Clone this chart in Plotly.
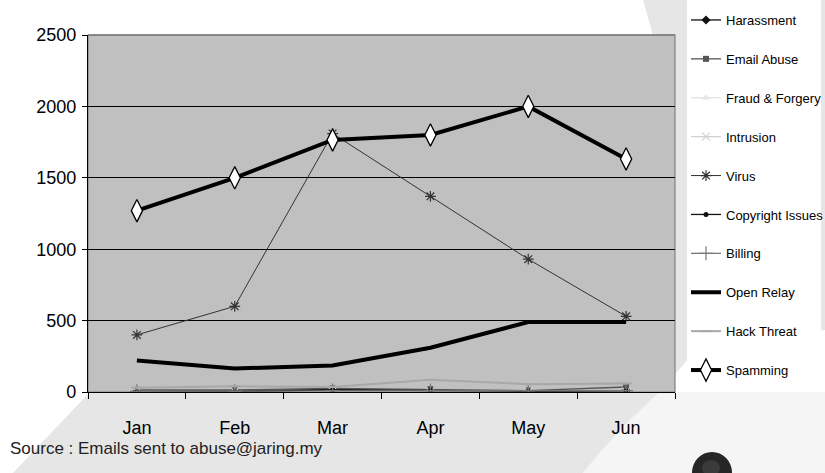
import plotly.graph_objects as go

# Monthly abuse reports by category
months = ["Jan", "Feb", "Mar", "Apr", "May", "Jun"]

harassment = [5, 8, 15, 10, 5, 10]
email_abuse = [15, 15, 25, 20, 10, 35]
fraud_forgery = [3, 5, 5, 8, 5, 5]
intrusion = [2, 3, 5, 3, 2, 3]
virus = [400, 600, 1810, 1370, 930, 530]
copyright_issues = [2, 3, 15, 12, 5, 8]
billing = [5, 5, 10, 10, 8, 10]
open_relay = [220, 165, 185, 310, 490, 490]
hack_threat = [30, 40, 35, 85, 55, 60]
spamming = [1270, 1500, 1765, 1800, 2000, 1632]

y_ticks = [0, 500, 1000, 1500, 2000, 2500]

W, H = 825, 473
L, R, T, B = 88, 675, 35, 392  # plot-area pixel box


def px(x):
    return (x - L) / (R - L)


def py(y):
    return (B - y) / (B - T)


def path(points):
    return "M " + " L ".join(f"{px(x):.4f},{py(y):.4f}" for x, y in points) + " Z"


SANS = "Liberation Sans, Arial, sans-serif"

series = [
    ("Harassment", harassment, dict(color="#111111", width=1.3), dict(symbol="diamond", size=7, color="#111111")),
    ("Email Abuse", email_abuse, dict(color="#555555", width=1.3), dict(symbol="square", size=6, color="#555555")),
    ("Fraud & Forgery", fraud_forgery, dict(color="#e4e4e4", width=1.3), dict(symbol="triangle-up", size=7, color="#e4e4e4")),
    ("Intrusion", intrusion, dict(color="#d2d2d2", width=1.3), dict(symbol="x-thin-open", size=8, color="#d2d2d2", line=dict(width=1.2, color="#d2d2d2"))),
    ("Virus", virus, dict(color="#333333", width=1), dict(symbol="asterisk-open", size=9, color="#333333", line=dict(width=1.2, color="#333333"))),
    ("Copyright Issues", copyright_issues, dict(color="#111111", width=1.3), dict(symbol="circle", size=5, color="#111111")),
    ("Billing", billing, dict(color="#777777", width=1.3), dict(symbol="cross-thin-open", size=10, color="#777777", line=dict(width=1.2, color="#777777"))),
    ("Open Relay", open_relay, dict(color="#000000", width=4), None),
    ("Hack Threat", hack_threat, dict(color="#a8a8a8", width=2), dict(symbol="line-ew-open", size=8, color="#a8a8a8", line=dict(width=2, color="#a8a8a8"))),
    ("Spamming", spamming, dict(color="#000000", width=4), dict(symbol="diamond-tall", size=16, color="#ffffff", line=dict(width=1.3, color="#000000"))),
]

fig = go.Figure()
for i, (name, vals, line, marker) in enumerate(series):
    fig.add_trace(go.Scatter(
        x=months, y=vals, name=name,
        mode="lines+markers" if marker else "lines",
        line=line, marker=marker,
        legendgroup=f"g{i}",
        hoverinfo="skip",
    ))

shapes = [
    # light grey sweep behind the chart
    dict(type="path", xref="paper", yref="paper", layer="below",
         path=path([(13, 473), (90, 392), (660, 60), (643, 0), (825, 0), (825, 330), (700, 345),
                    (660, 392), (630, 420), (605, 447), (583, 473)]),
         fillcolor="#e6e6e6", line=dict(width=0)),
    # paler region at lower right
    dict(type="path", xref="paper", yref="paper", layer="below",
         path=path([(583, 473), (605, 447), (630, 420), (660, 392), (825, 392), (825, 473)]),
         fillcolor="#f5f5f5", line=dict(width=0)),
    # plot area
    dict(type="rect", xref="paper", yref="paper", layer="below",
         x0=0, x1=1, y0=0, y1=1, fillcolor="#c0c0c0", line=dict(color="#808080", width=1.2)),
    # legend panel
    dict(type="rect", xref="paper", yref="paper", layer="below",
         x0=px(687), x1=px(821), y0=py(392), y1=py(0), fillcolor="#ffffff", line=dict(width=0)),
    # grey top border of the plot area
    dict(type="line", xref="paper", yref="paper", layer="above",
         x0=0, x1=1, y0=1, y1=1, line=dict(color="#7a7a7a", width=1.5)),
    # dark ball at the bottom edge
    dict(type="circle", xref="paper", yref="paper", layer="above",
         x0=px(692), x1=px(732), y0=py(493), y1=py(452), fillcolor="#262626", line=dict(width=0)),
    dict(type="circle", xref="paper", yref="paper", layer="above",
         x0=px(702), x1=px(720), y0=py(476), y1=py(460), fillcolor="#3a3a3a", line=dict(width=0)),
]

fig.update_layout(
    width=W, height=H,
    margin=dict(l=L, r=W - R, t=T, b=H - B, pad=0, autoexpand=False),
    paper_bgcolor="#ffffff",
    plot_bgcolor="rgba(0,0,0,0)",
    font=dict(family=SANS, color="#000000", size=18),
    shapes=shapes,
    showlegend=True,
    legend=dict(
        x=px(686), y=py(5), xanchor="left", yanchor="top",
        bgcolor="rgba(0,0,0,0)", borderwidth=0,
        font=dict(family=SANS, size=13, color="#000000"),
        traceorder="grouped", tracegroupgap=19, itemwidth=30,
        maxheight=1,
    ),
    xaxis=dict(
        type="category", categoryarray=months, range=[-0.5, 5.5],
        showgrid=False, zeroline=False,
        showline=True, linecolor="#000000", linewidth=1.2,
        ticks="outside", ticklen=6, tickcolor="#000000", tickwidth=1,
        tickson="boundaries", ticklabelstandoff=19,
        tickfont=dict(family=SANS, size=18),
    ),
    yaxis=dict(
        range=[0, 2500], tickvals=y_ticks, ticktext=[str(v) for v in y_ticks],
        showgrid=True, gridcolor="#000000", gridwidth=1,
        zeroline=False,
        showline=True, linecolor="#000000", linewidth=1.2,
        ticks="outside", ticklen=5, tickcolor="#000000",
        ticklabelstandoff=2,
        tickfont=dict(family=SANS, size=18),
    ),
    annotations=[
        dict(text="Source : Emails sent to abuse@jaring.my", xref="paper", yref="paper",
             x=px(8), y=py(449), xanchor="left", yanchor="middle", showarrow=False,
             font=dict(family=SANS, size=17, color="#222222")),
    ],
)

fig.write_html("out.html")
